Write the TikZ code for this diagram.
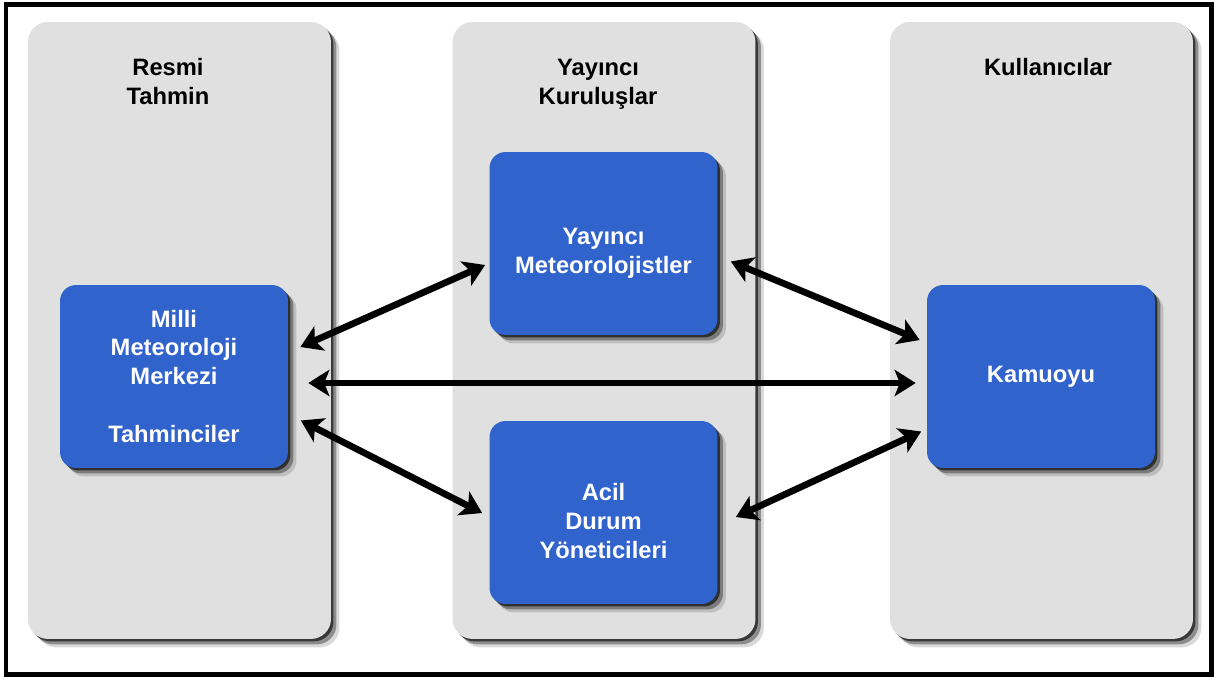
\documentclass[tikz,border=0pt]{standalone}
\usepackage{fontspec}
\setmainfont{Liberation Sans}
\usetikzlibrary{arrows.meta,shadows,calc}

\begin{document}
\begin{tikzpicture}[x=0.02cm, y=-0.02cm,
  soft shadow/.style={
    general shadow={shadow xshift=0.05cm, shadow yshift=-0.05cm, fill=black, opacity=0.6},
    general shadow={shadow xshift=0.11cm, shadow yshift=-0.11cm, fill=black, opacity=0.35},
    general shadow={shadow xshift=0.17cm, shadow yshift=-0.17cm, fill=black, opacity=0.15}},
  lane/.style={soft shadow, fill=lanegray, rounded corners=0.4cm,
    minimum width=6.06cm, minimum height=12.34cm, inner sep=0pt},
  role/.style={soft shadow, fill=roleblue, rounded corners=0.32cm,
    minimum width=4.56cm, minimum height=3.66cm, text=white, align=center,
    font=\bfseries\fontsize{13.5}{16.5}\selectfont},
  heading/.style={anchor=base, align=center,
    font=\bfseries\fontsize{13.5}{16.5}\selectfont},
  link/.style={line width=3.8pt,
    {Stealth[length=12pt,width=15pt,inset=3pt]}-{Stealth[length=12pt,width=15pt,inset=3pt]}}]

\def\lowertext{\rule{0pt}{20pt}}
\definecolor{lanegray}{RGB}{224,224,224}
\definecolor{roleblue}{RGB}{49,99,204}

\useasboundingbox (0,0) rectangle (1214,677);
\draw[line width=0.1cm] (6,4.5) rectangle (1211.5,674.5);

\node[lane] (official) at (179.5,330.5) {};
\node[lane] (media) at (604,330.5) {};
\node[lane] (users) at (1041.5,330.5) {};

\node[heading] (officialtitle) at (168,104) {Resmi\\Tahmin};
\node[heading] (mediatitle) at (598,104) {Yayıncı\\Kuruluşlar};
\node[heading] (userstitle) at (1048,75) {Kullanıcılar};

\node[role] (milli) at (174,376.5) {Milli\\Meteoroloji\\Merkezi\\[16.5pt]Tahminciler};
\node[role] (caster) at (603.5,243.5) {\lowertext Yayıncı\\Meteorolojistler};
\node[role] (emerg) at (603.5,512.5) {\lowertext Acil\\Durum\\Yöneticileri};
\node[role] (public) at (1041,376.5) {Kamuoyu};

\draw[link] ($(milli.east)+(12,-29.5)$) -- ($(caster.west)+(-4,21.5)$);
\draw[link] ($(milli.east)+(20,6.5)$) -- ($(public.west)+(-11,6.5)$);
\draw[link] ($(milli.east)+(12.5,44)$) -- ($(emerg.west)+(-7,0.5)$);
\draw[link] ($(caster.east)+(13,18)$) -- ($(public.west)+(-7,-36.5)$);
\draw[link] ($(emerg.east)+(18,4.5)$) -- ($(public.west)+(-5.5,55)$);

\end{tikzpicture}
\end{document}
